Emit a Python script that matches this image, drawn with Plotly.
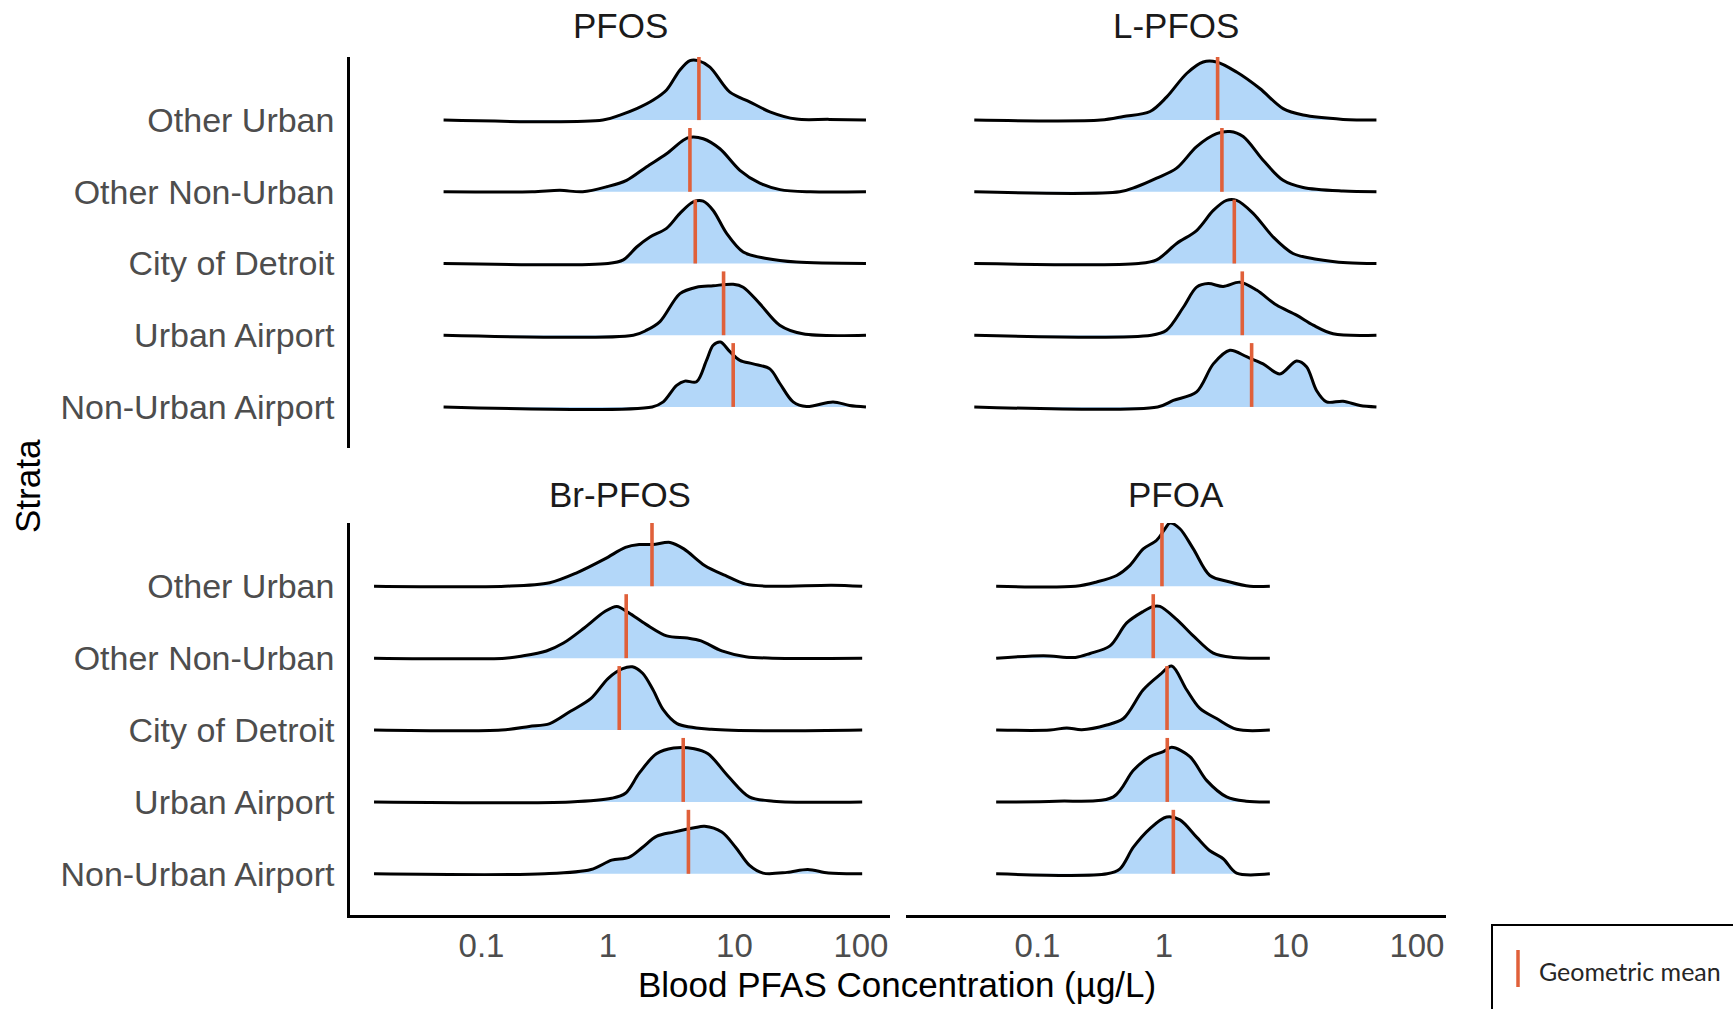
import numpy as np
import plotly.graph_objects as go

STRATA = ["Other Urban", "Other Non-Urban", "City of Detroit", "Urban Airport", "Non-Urban Airport"]
PANELS = ["PFOS", "L-PFOS", "Br-PFOS", "PFOA"]
X_TICKS = [0.1, 1, 10, 100]
X_TICK_TEXT = ["0.1", "1", "10", "100"]

# log10 concentration (µg/L) points and ridge heights (row units), per stratum in STRATA order
PFOS_LOGX = [
    [-1.30, -0.04, 0.095, 0.227, 0.358, 0.463, 0.569, 0.648, 0.713, 0.806, 0.964, 1.12, 1.28, 1.49, 1.75, 2.04],
    [-1.30, -0.6, -0.38, -0.2, -0.01, 0.147, 0.306, 0.463, 0.595, 0.648, 0.753, 0.885, 1.043, 1.20, 1.36, 1.6, 2.04],
    [-1.30, 0.0, 0.121, 0.227, 0.332, 0.463, 0.569, 0.674, 0.753, 0.832, 0.938, 1.069, 1.254, 1.49, 2.04],
    [-1.30, 0.2, 0.306, 0.411, 0.569, 0.70, 0.832, 0.99, 1.069, 1.20, 1.358, 1.54, 2.04],
    [-1.30, 0.35, 0.437, 0.543, 0.608, 0.70, 0.779, 0.832, 0.89, 0.964, 1.043, 1.148, 1.28, 1.358, 1.464, 1.57, 1.78, 1.91, 2.04],
]
PFOS_DENS = [
    [0, 0, 0.07, 0.16, 0.28, 0.42, 0.70, 0.83, 0.83, 0.74, 0.39, 0.255, 0.116, 0.014, 0.01, 0],
    [0, 0, 0.02, 0, 0.07, 0.16, 0.35, 0.53, 0.72, 0.76, 0.74, 0.60, 0.30, 0.12, 0.03, 0, 0],
    [0, 0, 0.05, 0.23, 0.37, 0.49, 0.70, 0.86, 0.87, 0.74, 0.42, 0.16, 0.07, 0.02, 0],
    [0, 0, 0.07, 0.19, 0.58, 0.67, 0.69, 0.71, 0.67, 0.44, 0.14, 0.02, 0],
    [0, 0, 0.07, 0.30, 0.36, 0.35, 0.65, 0.86, 0.905, 0.77, 0.65, 0.60, 0.53, 0.33, 0.07, 0.005, 0.07, 0.02, 0],
]

LPFOS_LOGX = [
    [-1.50, -0.5, -0.32, -0.11, 0.02, 0.179, 0.31, 0.416, 0.574, 0.758, 0.942, 1.10, 1.416, 1.68],
    [-1.50, -0.35, -0.216, -0.058, 0.10, 0.258, 0.416, 0.521, 0.626, 0.784, 0.942, 1.10, 1.416, 1.68],
    [-1.50, -0.2, -0.058, 0.10, 0.258, 0.39, 0.495, 0.574, 0.705, 0.863, 1.02, 1.206, 1.45, 1.68],
    [-1.50, -0.1, 0.02, 0.153, 0.258, 0.35, 0.468, 0.60, 0.732, 0.89, 1.048, 1.18, 1.337, 1.68],
    [-1.50, -0.05, 0.074, 0.258, 0.39, 0.521, 0.653, 0.784, 0.916, 1.048, 1.127, 1.206, 1.285, 1.416, 1.55, 1.68],
]
LPFOS_DENS = [
    [0, 0, 0.05, 0.12, 0.32, 0.65, 0.81, 0.81, 0.67, 0.44, 0.16, 0.07, 0.01, 0],
    [0, 0, 0.07, 0.19, 0.33, 0.63, 0.81, 0.84, 0.77, 0.44, 0.16, 0.06, 0.01, 0],
    [0, 0, 0.05, 0.28, 0.46, 0.74, 0.88, 0.88, 0.70, 0.37, 0.14, 0.06, 0.01, 0],
    [0, 0, 0.07, 0.39, 0.67, 0.72, 0.68, 0.74, 0.63, 0.42, 0.28, 0.14, 0.02, 0],
    [0, 0, 0.09, 0.21, 0.60, 0.79, 0.70, 0.60, 0.46, 0.64, 0.56, 0.23, 0.07, 0.08, 0.02, 0],
]

BRPFOS_LOGX = [
    [-1.85, -0.814, -0.46, -0.243, -0.025, 0.138, 0.247, 0.356, 0.491, 0.60, 0.764, 0.927, 1.09, 1.3, 1.77, 2.01],
    [-1.85, -0.814, -0.678, -0.487, -0.352, -0.188, -0.025, 0.07, 0.165, 0.301, 0.464, 0.628, 0.736, 0.90, 1.09, 1.3, 2.01],
    [-1.85, -0.841, -0.623, -0.46, -0.297, -0.134, 0.002, 0.111, 0.193, 0.274, 0.356, 0.438, 0.546, 0.818, 2.01],
    [-1.85, -0.297, 0.029, 0.138, 0.247, 0.383, 0.519, 0.682, 0.791, 0.954, 1.117, 1.308, 2.01],
    [-1.85, -0.5, -0.134, 0.029, 0.165, 0.274, 0.383, 0.519, 0.682, 0.764, 0.90, 1.009, 1.117, 1.226, 1.416, 1.58, 1.743, 2.01],
]
BRPFOS_DENS = [
    [0, 0, 0.05, 0.19, 0.38, 0.54, 0.58, 0.58, 0.61, 0.52, 0.29, 0.15, 0.03, 0, 0.015, 0],
    [0, 0, 0.03, 0.10, 0.21, 0.42, 0.65, 0.72, 0.63, 0.47, 0.31, 0.28, 0.24, 0.10, 0.02, 0, 0],
    [0, 0, 0.05, 0.09, 0.26, 0.44, 0.72, 0.85, 0.88, 0.79, 0.56, 0.28, 0.09, 0.01, 0],
    [0, 0, 0.05, 0.12, 0.40, 0.67, 0.75, 0.74, 0.67, 0.35, 0.07, 0.01, 0],
    [0, 0, 0.06, 0.19, 0.23, 0.37, 0.52, 0.58, 0.64, 0.66, 0.58, 0.37, 0.12, 0.01, 0.02, 0.06, 0.01, 0],
]

PFOA_LOGX = [
    [-1.327, -0.7, -0.532, -0.374, -0.269, -0.164, -0.058, 0.008, 0.047, 0.126, 0.232, 0.363, 0.521, 0.68, 0.837],
    [-1.327, -0.953, -0.7, -0.585, -0.427, -0.295, -0.164, -0.085, -0.032, 0.10, 0.232, 0.39, 0.547, 0.837],
    [-1.327, -0.9, -0.769, -0.65, -0.453, -0.321, -0.164, -0.032, 0.061, 0.179, 0.284, 0.416, 0.574, 0.837],
    [-1.327, -0.85, -0.40, -0.242, -0.111, -0.005, 0.061, 0.205, 0.337, 0.495, 0.65, 0.837],
    [-1.327, -0.45, -0.348, -0.242, -0.111, 0.021, 0.126, 0.258, 0.363, 0.468, 0.574, 0.837],
]
PFOA_DENS = [
    [0, 0, 0.06, 0.15, 0.29, 0.52, 0.64, 0.80, 0.88, 0.80, 0.52, 0.15, 0.06, 0, 0],
    [0, 0.035, 0.01, 0.065, 0.17, 0.49, 0.65, 0.72, 0.72, 0.54, 0.31, 0.07, 0.01, 0],
    [0, 0, 0.03, 0.005, 0.07, 0.16, 0.56, 0.77, 0.89, 0.56, 0.30, 0.16, 0.01, 0],
    [0, 0.01, 0.07, 0.44, 0.63, 0.70, 0.76, 0.63, 0.30, 0.07, 0.01, 0],
    [0, 0, 0.07, 0.37, 0.63, 0.79, 0.75, 0.51, 0.32, 0.21, 0.01, 0],
]

# geometric means (log10 µg/L), STRATA order
GM_PFOS = [0.719, 0.648, 0.690, 0.914, 0.99]
GM_LPFOS = [0.424, 0.458, 0.556, 0.619, 0.693]
GM_BRPFOS = [0.348, 0.144, 0.089, 0.595, 0.636]
GM_PFOA = [-0.016, -0.085, 0.024, 0.026, 0.074]

LOGX = [PFOS_LOGX, LPFOS_LOGX, BRPFOS_LOGX, PFOA_LOGX]
DENS = [PFOS_DENS, LPFOS_DENS, BRPFOS_DENS, PFOA_DENS]
GMS = [GM_PFOS, GM_LPFOS, GM_BRPFOS, GM_PFOA]

# ---------- styling / layout ----------
W, H = 1733, 1009
FILL = "#B3D7F9"
ORANGE = "#E0603A"
FONT = "Liberation Sans"
GM_LINE_H = 0.89

XDOM = [[350 / W, 890 / W], [906 / W, 1446 / W]]
YDOM = [[1 - 448 / H, 1 - 57 / H], [1 - 915 / H, 1 - 523 / H]]
XRANGE = [-2.04, 2.23]
YRANGE = [-0.573, 4.88]

fig = go.Figure()
layout = dict(
    width=W, height=H, margin=dict(l=0, r=0, t=0, b=0),
    paper_bgcolor="white", plot_bgcolor="white", showlegend=False,
    font=dict(family=FONT, size=34, color="#4D4D4D"),
)

n_rows = len(STRATA)
for p, name in enumerate(PANELS):
    col = p % 2
    row = p // 2
    ax = "" if p == 0 else str(p + 1)
    xref, yref = "x" + ax, "y" + ax
    for s in range(n_rows):
        base = n_rows - 1 - s
        lx = LOGX[p][s]
        dens = DENS[p][s]
        xs = [10 ** v for v in lx]
        ys = [base + d for d in dens]
        fig.add_trace(go.Scatter(x=[xs[0], xs[-1]], y=[base, base], mode="lines",
                                 line=dict(width=0, color="rgba(0,0,0,0)"),
                                 hoverinfo="skip", xaxis=xref, yaxis=yref))
        fig.add_trace(go.Scatter(x=xs, y=ys, mode="lines", fill="tonexty", fillcolor=FILL,
                                 line=dict(color="black", width=3, shape="spline", smoothing=0.9),
                                 hoverinfo="skip", xaxis=xref, yaxis=yref))
    for s in range(n_rows):
        base = n_rows - 1 - s
        g = 10 ** GMS[p][s]
        fig.add_trace(go.Scatter(x=[g, g], y=[base, base + GM_LINE_H], mode="lines",
                                 line=dict(color=ORANGE, width=3.6),
                                 hoverinfo="skip", xaxis=xref, yaxis=yref))

    is_bottom = row == 1
    is_left = col == 0
    layout["xaxis" + ax] = dict(
        domain=XDOM[col], type="log", range=XRANGE, anchor=yref,
        showgrid=False, zeroline=False,
        showline=is_bottom, linecolor="black", linewidth=2.5,
        showticklabels=is_bottom, tickvals=X_TICKS, ticktext=X_TICK_TEXT,
        ticks="", ticklabelstandoff=0,
        tickfont=dict(family=FONT, size=33, color="#4D4D4D"),
    )
    layout["yaxis" + ax] = dict(
        domain=YDOM[row], range=YRANGE, anchor=xref,
        showgrid=False, zeroline=False,
        showline=is_left, linecolor="black", linewidth=2.5,
        showticklabels=is_left, tickvals=list(range(n_rows)),
        ticktext=STRATA[::-1], ticks="", ticklabelstandoff=6,
        tickfont=dict(family=FONT, size=34, color="#4D4D4D"),
    )

annotations = []
title_y = [1 - 26 / H, 1 - 494 / H]
for p, name in enumerate(PANELS):
    col, row = p % 2, p // 2
    annotations.append(dict(text=name, x=sum(XDOM[col]) / 2, y=title_y[row], xref="paper", yref="paper",
                            showarrow=False, xanchor="center", yanchor="middle",
                            font=dict(family=FONT, size=35, color="#1A1A1A")))
annotations.append(dict(text="Blood PFAS Concentration (µg/L)", x=897 / W, y=1 - 984 / H,
                        xref="paper", yref="paper", showarrow=False, xanchor="center", yanchor="middle",
                        font=dict(family=FONT, size=35, color="black")))
annotations.append(dict(text="Strata", x=27 / W, y=1 - 486 / H, textangle=-90,
                        xref="paper", yref="paper", showarrow=False, xanchor="center", yanchor="middle",
                        font=dict(family=FONT, size=35, color="black")))
annotations.append(dict(text="Geometric mean", x=1537 / W, y=1 - 971 / H,
                        xref="paper", yref="paper", showarrow=False, xanchor="left", yanchor="middle",
                        font=dict(family="Lato, Open Sans, sans-serif", size=25, color="#262626")))
layout["annotations"] = annotations

layout["shapes"] = [
    dict(type="rect", xref="paper", yref="paper", x0=1492 / W, x1=1760 / W, y0=-0.05, y1=1 - 925 / H,
         line=dict(color="black", width=2), fillcolor="rgba(0,0,0,0)"),
    dict(type="line", xref="paper", yref="paper", x0=1518 / W, x1=1518 / W, y0=1 - 987 / H, y1=1 - 950 / H,
         line=dict(color=ORANGE, width=3.5)),
]

fig.update_layout(**layout)
fig.write_html("out.html")
